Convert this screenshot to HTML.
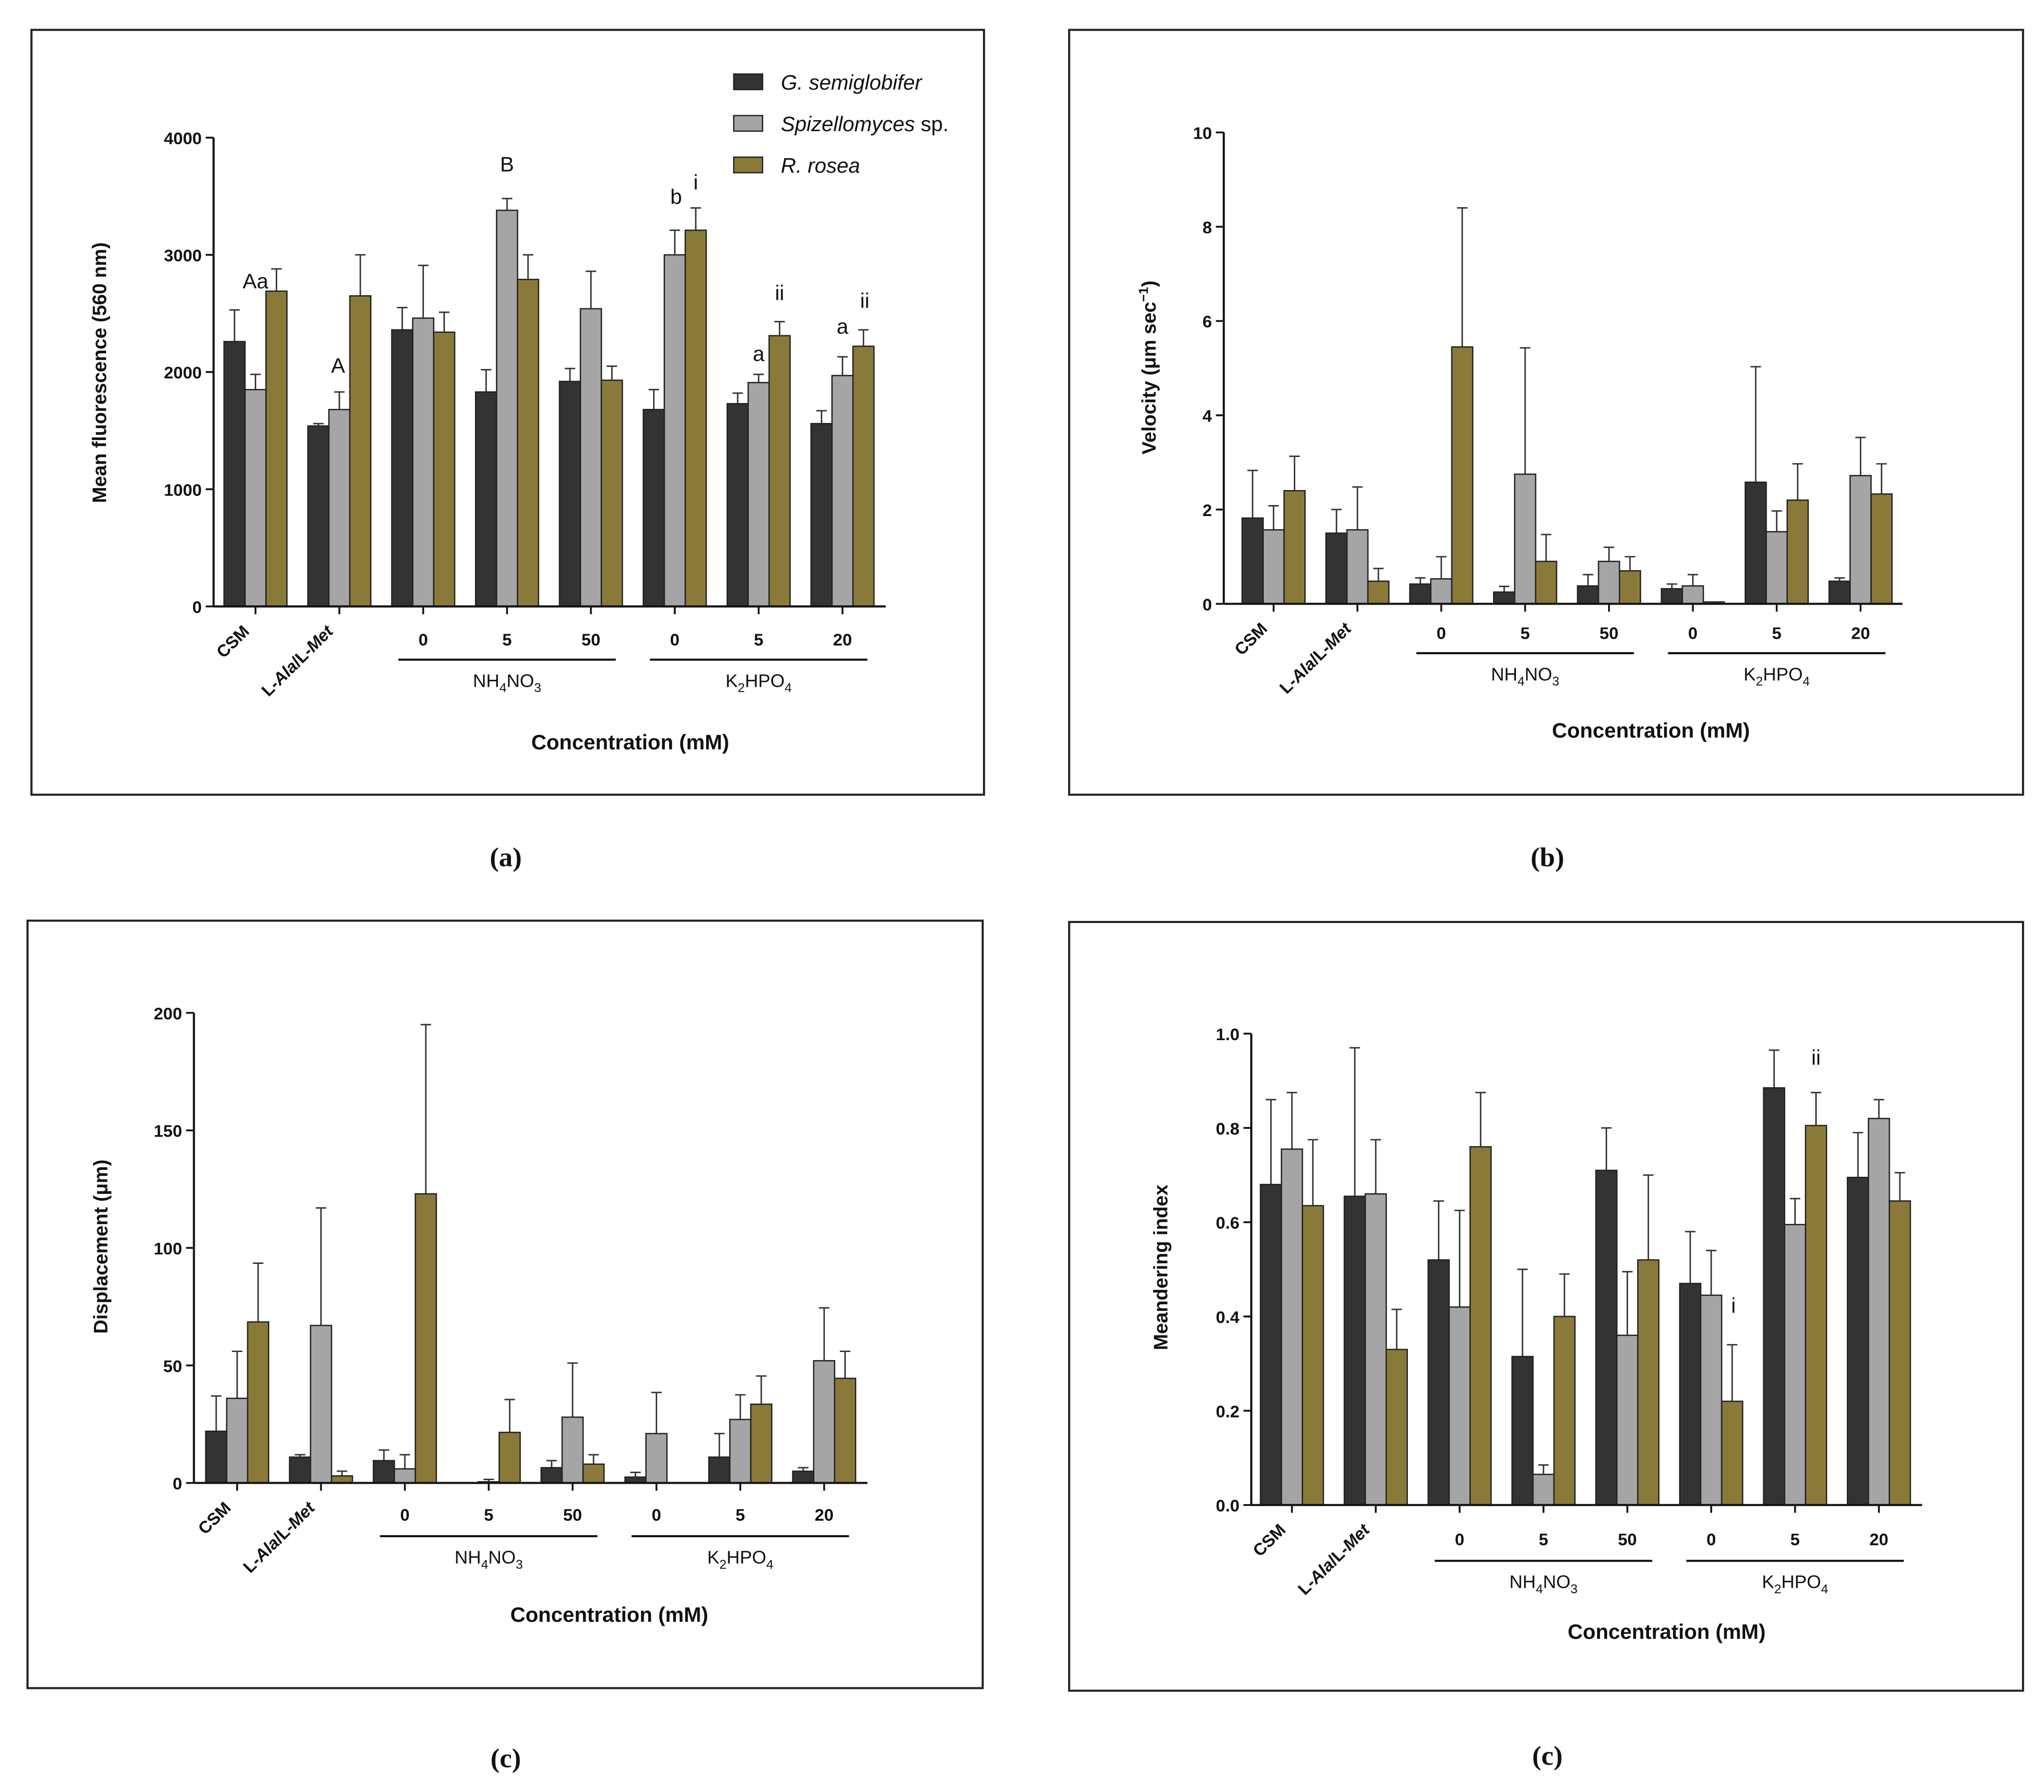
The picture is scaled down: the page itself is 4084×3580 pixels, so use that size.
<!DOCTYPE html>
<html><head><meta charset="utf-8"><style>
html,body{margin:0;padding:0;background:#fff}
svg{display:block}
text{font-family:"Liberation Sans",sans-serif;fill:#111}
</style></head><body>
<svg id="fig" xmlns="http://www.w3.org/2000/svg" width="4084" height="3580" viewBox="0 0 1560 1380" preserveAspectRatio="none"></svg>
<script>
// ---- data ----
const categories = ["CSM","L-Ala/L-Met","0","5","50","0","5","20"];
const seriesNames = ["G. semiglobifer","Spizellomyces sp.","R. rosea"];
// panel a: fluorescence
const aDark = [2260,1540,2360,1830,1920,1680,1730,1560];
const aDarkErr = [2530,1560,2550,2020,2030,1850,1820,1670];
const aGrey = [1850,1680,2460,3380,2540,3000,1910,1970];
const aGreyErr = [1980,1830,2910,3480,2860,3210,1980,2130];
const aOlive = [2690,2650,2340,2790,1930,3210,2310,2220];
const aOliveErr = [2880,3000,2510,3000,2050,3400,2430,2360];
const aTicks = [0,1000,2000,3000,4000];
// panel b: velocity
const bDark = [1.82,1.5,0.42,0.25,0.38,0.32,2.58,0.48];
const bDarkErr = [2.83,2.0,0.55,0.37,0.62,0.42,5.03,0.55];
const bGrey = [1.57,1.57,0.53,2.75,0.9,0.38,1.53,2.72];
const bGreyErr = [2.08,2.48,1.0,5.43,1.2,0.62,1.97,3.53];
const bOlive = [2.4,0.48,5.45,0.9,0.7,0.04,2.2,2.33];
const bOliveErr = [3.13,0.75,8.4,1.47,1.0,0.04,2.97,2.97];
const bTicks = [0,2,4,6,8,10];
// panel c: displacement
const cDark = [22,11,9.5,0,6.5,2.5,11,5];
const cDarkErr = [37,12,14,0,9.5,4.5,21,6.5];
const cGrey = [36,67,6,0.5,28,21,27,52];
const cGreyErr = [56,117,12,1.5,51,38.5,37.5,74.5];
const cOlive = [68.5,3,123,21.5,8,0,33.5,44.5];
const cOliveErr = [93.5,5,195,35.5,12,0,45.5,56];
const cTicks = [0,50,100,150,200];
// panel d: meandering index
const dDark = [0.68,0.655,0.52,0.315,0.71,0.47,0.885,0.695];
const dDarkErr = [0.86,0.97,0.645,0.5,0.8,0.58,0.965,0.79];
const dGrey = [0.755,0.66,0.42,0.065,0.36,0.445,0.595,0.82];
const dGreyErr = [0.875,0.775,0.625,0.085,0.495,0.54,0.65,0.86];
const dOlive = [0.635,0.33,0.76,0.4,0.52,0.22,0.805,0.645];
const dOliveErr = [0.775,0.415,0.875,0.49,0.7,0.34,0.875,0.705];
const dTicks = ["0.0","0.2","0.4","0.6","0.8","1.0"];

const colors = ["#333333","#a5a5a7","#8a7a3a"];
const NS = "http://www.w3.org/2000/svg";
const svg = document.getElementById("fig");
function el(tag, attrs, parent, txt){
  const e = document.createElementNS(NS, tag);
  for (const k in attrs) e.setAttribute(k, attrs[k]);
  if (txt !== undefined) e.textContent = txt;
  (parent||svg).appendChild(e);
  return e;
}
// parts: [text, dy, isSmall]
function sub(parent, x, y, parts, size){
  const t = el("text",{x:x,y:y,"text-anchor":"middle","font-size":size},parent);
  parts.forEach(p=>{
    const s = document.createElementNS(NS,"tspan");
    if (p[1]) s.setAttribute("dy", p[1]);
    s.setAttribute("font-size", p[2] ? size*0.7 : size);
    s.textContent = p[0];
    t.appendChild(s);
  });
  return t;
}

function panel(P){
  const g = el("g",{});
  
  
  const box = el("rect",{x:P.box[0],y:P.box[1],width:P.box[2]-P.box[0],height:P.box[3]-P.box[1],fill:"none",stroke:"#222","stroke-width":1.6},g);
  
  
  const ymax = P.max;
  const yS = v => P.y0 - (v/ymax)*(P.y0-P.yTop);
  const bw = 16, gap = 64;
  const xS = (gi, si) => P.gx0 + gi*gap + si*bw;
  const ya = el("line",{x1:P.ax,y1:P.y0,x2:P.ax,y2:P.yTop,stroke:"#111","stroke-width":1.6},g);
  
  
  P.ticks.forEach(t=>{
    const v = parseFloat(t);
    const y = yS(v);
    el("line",{x1:P.ax-6,y1:y,x2:P.ax,y2:y,stroke:"#111","stroke-width":1.4},g);
    const tl = el("text",{x:P.ax-9,y:y+5,"text-anchor":"end","font-size":13,"font-weight":"bold"},g,String(t));
    
    
  });
  const sets = [[P.d[0],P.e[0]],[P.d[1],P.e[1]],[P.d[2],P.e[2]]];
  sets.forEach((s,si)=>{
    s[0].forEach((v,gi)=>{
      const x = xS(gi,si);
      const cx = x+bw/2;
      const et = yS(s[1][gi]);
      if (s[1][gi] > v) {
        const el1 = el("line",{x1:cx,y1:yS(v),x2:cx,y2:et,stroke:"#333","stroke-width":1.1},g);
        
        
        el("line",{x1:cx-4,y1:et,x2:cx+4,y2:et,stroke:"#333","stroke-width":1.1},g);
      }
      const h = P.y0 - yS(v);
      const r = el("rect",{x:x,y:yS(v),width:bw,height:Math.max(h,0),fill:colors[si],stroke:"#222","stroke-width":1},g);
      
      
    });
  });
  const xa = el("line",{x1:P.ax,y1:P.y0,x2:P.xEnd,y2:P.y0,stroke:"#111","stroke-width":1.6},g);
  
  
  categories.forEach((c,gi)=>{
    const cx = P.gx0 + gi*gap + 24;
    el("line",{x1:cx,y1:P.y0,x2:cx,y2:P.y0+6,stroke:"#111","stroke-width":1.4},g);
    let t;
    if (gi<2){
      t = el("text",{x:cx-4,y:P.y0+20,"text-anchor":"end","font-size":13,"font-weight":"bold",transform:`rotate(-45 ${cx-4} ${P.y0+20})`},g,c);
      if (gi==1){ t.textContent=""; ["L-",["Ala"],"/L-",["Met"]].forEach(p=>{const s=document.createElementNS(NS,"tspan"); if(Array.isArray(p)){s.textContent=p[0];s.setAttribute("font-style","italic");} else s.textContent=p; t.appendChild(s);}); }
    } else {
      t = el("text",{x:cx,y:P.y0+P.numDy,"text-anchor":"middle","font-size":13,"font-weight":"bold"},g,c);
    }
    
    
  });
  const gl1 = el("line",{x1:P.gx0+2*gap+5,y1:P.y0+P.lineDy,x2:P.gx0+4*gap+43,y2:P.y0+P.lineDy,stroke:"#111","stroke-width":1.6},g);
  
  
  const gl2 = el("line",{x1:P.gx0+5*gap+5,y1:P.y0+P.lineDy,x2:P.gx0+7*gap+43,y2:P.y0+P.lineDy,stroke:"#111","stroke-width":1.6},g);
  
  
  const n1 = sub(g, P.gx0+3*gap+24, P.y0+P.lineDy+21, [["NH",0,false],["4",4,true],["NO",-4,false],["3",4,true]], 14);
  
  
  const n2 = sub(g, P.gx0+6*gap+24, P.y0+P.lineDy+21, [["K",0,false],["2",4,true],["HPO",-4,false],["4",4,true]], 14);
  
  
  const xt = el("text",{x:P.xTitle[0],y:P.xTitle[1],"text-anchor":"middle","font-size":16,"font-weight":"bold"},g,"Concentration (mM)");
  
  
  const yt = el("text",{x:P.yTitle[0],y:P.yTitle[1],"text-anchor":"middle","font-size":15,"font-weight":"bold",transform:`rotate(-90 ${P.yTitle[0]} ${P.yTitle[1]})`},g);
  
  
  P.yTitleParts.forEach(p=>{const s=document.createElementNS(NS,"tspan"); s.textContent=p[0]; if(p[1]){s.setAttribute("dy",p[1]);} s.setAttribute("font-size", p[2]?10:15); yt.appendChild(s);});
  (P.ann||[]).forEach(a=>{
    const t = el("text",{x:a[1],y:a[2],"text-anchor":"middle","font-size":16},g,a[0]);
    
    
  });
  const cap = el("text",{x:P.cap[0],y:P.cap[1],"text-anchor":"middle","font-size":21,"font-weight":"bold",style:"font-family:'Liberation Serif',serif"},svg,P.capText);
  
  
}

panel({name:"panel-a-fluorescence",box:[24,23,751,612],ax:163,y0:467,yTop:106,max:4000,ticks:aTicks,gx0:171,xEnd:676,
  d:[aDark,aGrey,aOlive],e:[aDarkErr,aGreyErr,aOliveErr],numDy:30,lineDy:41,xTitle:[481,577],yTitle:[81,287],
  yTitleParts:[["Mean fluorescence (560 nm)"]],
  ann:[["Aa",195,222],["A",258,287],["B",387,132],["b",516,157],["i",531,146],["a",579,278],["ii",595,231],["a",643,257],["ii",660,237]],
  cap:[386,667],capText:"(a)"});
panel({name:"panel-b-velocity",box:[816,23,1544,612],ax:934,y0:465,yTop:102,max:10,ticks:bTicks,gx0:948,xEnd:1452,
  d:[bDark,bGrey,bOlive],e:[bDarkErr,bGreyErr,bOliveErr],numDy:27,lineDy:38,xTitle:[1260,568],yTitle:[882,283],
  yTitleParts:[["Velocity (μm sec",0,false],["−1",-6,true],[")",6,false]],
  cap:[1181,667],capText:"(b)"});
panel({name:"panel-c-displacement",box:[21,709,750,1300],ax:148,y0:1142,yTop:780,max:200,ticks:cTicks,gx0:157,xEnd:662,
  d:[cDark,cGrey,cOlive],e:[cDarkErr,cGreyErr,cOliveErr],numDy:29,lineDy:41,xTitle:[465,1249],yTitle:[82,960],
  yTitleParts:[["Displacement (μm)"]],
  cap:[386,1361],capText:"(c)"});
panel({name:"panel-d-meandering",box:[816,710,1544,1302],ax:955,y0:1159,yTop:796,max:1,ticks:dTicks,gx0:962,xEnd:1467,
  d:[dDark,dGrey,dOlive],e:[dDarkErr,dGreyErr,dOliveErr],numDy:31,lineDy:43,xTitle:[1272,1262],yTitle:[891,976],
  yTitleParts:[["Meandering index"]],
  ann:[["i",1323,1011],["ii",1386,820]],
  cap:[1181,1359],capText:"(c)"});

const lg = el("g",{});


seriesNames.forEach((n,i)=>{
  const y = 63 + i*32;
  const r = el("rect",{x:560,y:y-6,width:22,height:12,fill:colors[i],stroke:"#222","stroke-width":1},lg);
  
  
  const t = el("text",{x:596,y:y+6,"font-size":16},lg);
  
  
  if (i==1){ const a=document.createElementNS(NS,"tspan"); a.setAttribute("font-style","italic"); a.textContent="Spizellomyces"; t.appendChild(a); const b=document.createElementNS(NS,"tspan"); b.textContent=" sp."; t.appendChild(b); }
  else { t.setAttribute("font-style","italic"); t.textContent=n; }
});
</script>
</body></html>
